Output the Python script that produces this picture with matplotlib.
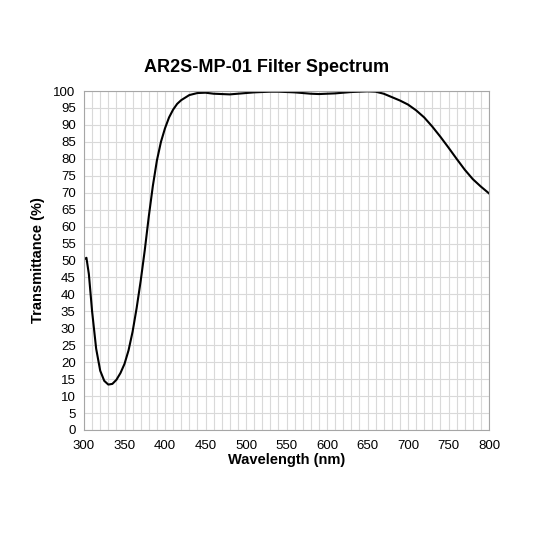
import matplotlib
matplotlib.use("Agg")
import matplotlib.pyplot as plt

plt.rcParams['font.family'] = ['Liberation Sans', 'DejaVu Sans']

wavelength = [300, 303, 306, 310, 315, 320, 325, 330, 335, 340, 345, 350, 355, 360, 365, 370, 375, 380, 385, 390, 395, 400, 405, 410, 415, 420, 430, 440, 450, 460, 470, 480, 490, 500, 510, 520, 530, 540, 550, 560, 570, 580, 590, 600, 610, 620, 630, 640, 650, 660, 670, 680, 690, 700, 710, 720, 730, 740, 750, 760, 770, 780, 790, 800]
transmittance = [50.3, 50.8, 46, 35, 24, 17.5, 14.5, 13.4, 13.6, 14.8, 16.8, 19.5, 23.5, 29, 36, 44, 53, 63, 72, 79.5, 85, 89, 92.2, 94.5, 96.2, 97.3, 98.8, 99.4, 99.5, 99.2, 99.1, 99.0, 99.2, 99.4, 99.6, 99.7, 99.8, 99.8, 99.7, 99.6, 99.4, 99.2, 99.1, 99.2, 99.3, 99.5, 99.7, 99.8, 99.9, 99.8, 99.2, 98.2, 97.2, 96.0, 94.3, 92.2, 89.5, 86.5, 83.3, 80, 76.8, 74, 71.8, 69.8]

fig = plt.figure(figsize=(5.33, 5.33), dpi=100)
ax = fig.add_axes([84/533, 1-430/533, (489-84)/533, (430-91)/533])
ax.plot(wavelength, transmittance, color="black", lw=1.5)
ax.set_xlim(300, 800)
ax.set_ylim(0, 100)
ax.set_xticks(range(300, 801, 50))
ax.set_xticks(range(300, 801, 10), minor=True)
ax.set_yticks(range(0, 101, 5))
ax.grid(True, which="both", color="#d9d9d9", lw=0.8)
ax.tick_params(which="both", length=0, labelsize=9.5)
ax.tick_params(axis="x", pad=7)
ax.tick_params(axis="y", pad=6)
for s in ax.spines.values():
    s.set_color("#a6a6a6"); s.set_linewidth(0.8)
ax.set_axisbelow(True)
ax.set_xlabel("Wavelength (nm)", fontsize=10.5, fontweight="bold", labelpad=1)
ax.set_ylabel("Transmittance (%)", fontsize=10.5, fontweight="bold", labelpad=6)
fig.text(0.5, 1-67/533, "AR2S-MP-01 Filter Spectrum", ha="center", va="center", fontsize=13, fontweight="bold")
fig.savefig("out.png", dpi=100)
